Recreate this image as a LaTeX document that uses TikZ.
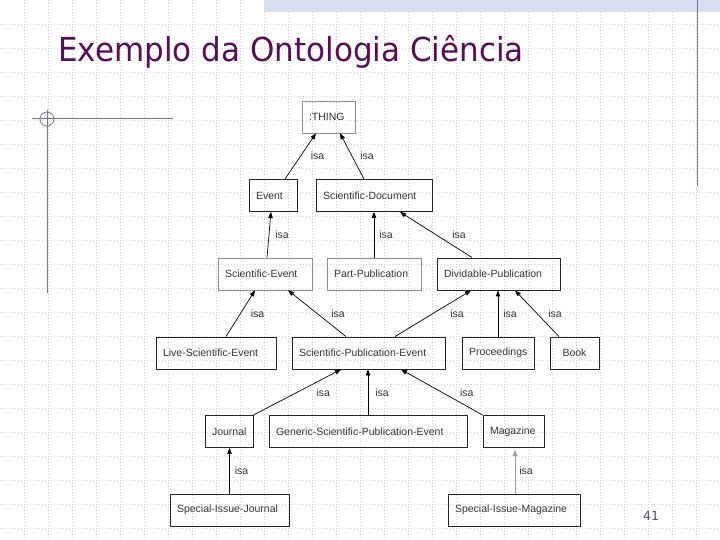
\documentclass[tikz,border=0pt]{standalone}
\usepackage{fontspec}
\setmainfont{Liberation Sans}
\newfontfamily\titlefont{DejaVu Sans}
\usetikzlibrary{arrows.meta}
\definecolor{gridgray}{RGB}{208,210,222}
\definecolor{bandblue}{RGB}{214,222,240}
\definecolor{slideblue}{RGB}{104,118,170}
\definecolor{titlepurple}{RGB}{90,12,90}
\definecolor{boxtext}{RGB}{50,50,50}

\tikzset{%
  cls/.style={
    rectangle,
    draw=black!85,
    line width=0.9pt,
    minimum height=32pt,
    inner xsep=7pt,
    text width=#1,
    align=left,
    text=boxtext,
    font=\fontsize{10.5}{12}\selectfont
  },
  cls light/.style={
    cls=#1,
    draw=black!45,
    line width=0.6pt
  },
  isa/.style={
    draw=black,
    line width=0.7pt,
    -{Triangle[length=6pt,width=4.5pt]}
  },
  isalbl/.style={
    anchor=west,
    inner sep=0pt,
    text=boxtext,
    font=\fontsize{10.5}{12}\selectfont
  },
}

\begin{document}
\begin{tikzpicture}[x=1pt,y=-1pt]
\useasboundingbox (0,0) rectangle (720,540);
% slide background
\foreach \k in {1,...,29}
  \draw[gridgray, line width=0.6pt, dash pattern=on 1pt off 2pt] (24*\k,0) -- (24*\k,540);
\foreach \k in {1,...,22}
  \draw[gridgray, line width=0.6pt, dash pattern=on 1pt off 2pt] (0,24*\k) -- (720,24*\k);
\fill[bandblue] (264,0) rectangle (720,12);
\draw[slideblue, line width=1pt] (697,0) -- (697,186);
\draw[slideblue, line width=1pt] (32,119) -- (173,119);
\draw[slideblue, line width=1pt] (47,110) -- (47,293);
\draw[slideblue, line width=0.8pt] (47,119) circle (7);
\node[anchor=base west, inner sep=0pt, text=titlepurple] (title) at (58,62)
  {\titlefont\fontsize{33}{36}\selectfont\scalebox{0.94}[1]{Exemplo da Ontologia Ciência}};
\node[text={rgb,255:red,80;green,80;blue,100}, font=\titlefont\fontsize{12.5}{14}\selectfont] (pagenum) at (651,516) {41};

% classes
\node[cls light=39pt] (thing) at (328.5,117) {:THING};
\node[cls=34pt] (evt) at (273,195.5) {Event};
\node[cls=102pt] (sdoc) at (374,195.5) {Scientific-Document};
\node[cls light=80pt] (sevt) at (265,274) {Scientific-Event};
\node[cls light=80pt] (ppub) at (374,274) {Part-Publication};
\node[cls=109pt] (dpub) at (498.5,274) {Dividable-Publication};
\node[cls=106pt] (lsevt) at (216,353) {Live-Scientific-Event};
\node[cls=139pt] (spevt) at (368.5,353) {Scientific-Publication-Event};
\node[cls=58pt] (proc) at (498,353) {Proceedings};
\node[cls=35pt, align=center] (book) at (574.5,353) {Book};
\node[cls=34pt] (jour) at (229,431.5) {Journal};
\node[cls=184pt] (gspevt) at (368,431.5) {Generic-Scientific-Publication-Event};
\node[cls=47pt] (mag) at (513.5,431.5) {Magazine};
\node[cls=105pt] (sij) at (229.5,510) {Special-Issue-Journal};
\node[cls=118pt] (sim) at (514,510) {Special-Issue-Magazine};

% isa links
\draw[isa] ([xshift=12pt]evt.north) -- node[isalbl, xshift=10pt] {isa} ([xshift=-12.5pt]thing.south);
\draw[isa] ([xshift=-10pt]sdoc.north) -- node[isalbl, xshift=8pt] {isa} ([xshift=11.5pt]thing.south);
\draw[isa] ([xshift=2pt]sevt.north) -- node[isalbl, xshift=6pt] {isa} ([xshift=-2pt]evt.south);
\draw[isa] (ppub.north) -- node[isalbl, xshift=5pt] {isa} (ppub.north |- sdoc.south);
\draw[isa] ([xshift=-26.5pt]dpub.north) -- node[isalbl, xshift=16pt] {isa} ([xshift=26pt]sdoc.south);
\draw[isa] ([xshift=10pt]lsevt.north) -- node[isalbl, xshift=10pt] {isa} ([xshift=-10pt]sevt.south);
\draw[isa] ([xshift=-22.5pt]spevt.north) -- node[isalbl, xshift=14pt] {isa} ([xshift=23pt]sevt.south);
\draw[isa] ([xshift=26.5pt]spevt.north) -- node[isalbl, xshift=17pt] {isa} ([xshift=-27.5pt]dpub.south);
\draw[isa] (proc.north) -- node[isalbl, xshift=5pt] {isa} (proc.north |- dpub.south);
\draw[isa] ([xshift=-15.5pt]book.north) -- node[isalbl, xshift=11pt] {isa} ([xshift=16.5pt]dpub.south);
\draw[isa] (jour.north east) -- node[isalbl, xshift=19pt] {isa} ([xshift=-27.5pt]spevt.south);
\draw[isa] (gspevt.north) -- node[isalbl, xshift=7pt] {isa} (gspevt.north |- spevt.south);
\draw[isa] (mag.north west) -- node[isalbl, xshift=18pt] {isa} ([xshift=32.5pt]spevt.south);
\draw[isa] (sij.north) -- node[isalbl, xshift=5pt] {isa} (sij.north |- jour.south);
\draw[isa, draw=black!40, shorten >=2pt] ([xshift=1pt]sim.north) -- node[isalbl, xshift=4pt] {isa} ([xshift=1pt]sim.north |- mag.south);
\end{tikzpicture}
\end{document}
